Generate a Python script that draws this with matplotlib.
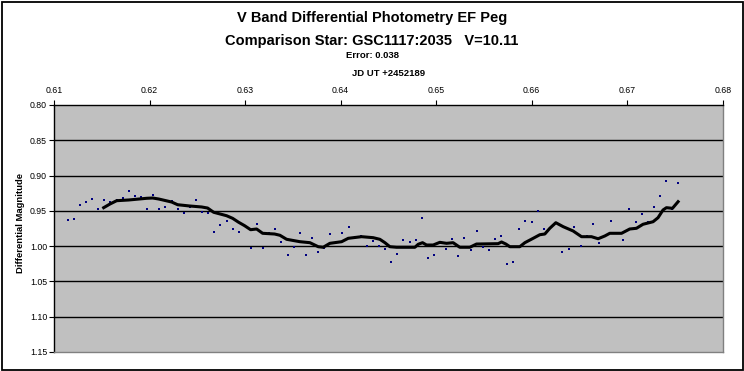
import matplotlib
matplotlib.use("Agg")
import matplotlib.pyplot as plt
from matplotlib.patches import Rectangle

plt.rcParams['font.family'] = ['Liberation Sans', 'DejaVu Sans']

# ---- data ----
jd = [0.61143, 0.61206, 0.61269, 0.61332, 0.61394, 0.61457, 0.61520, 0.61583,
      0.61656, 0.61719, 0.61782, 0.61844, 0.61907, 0.61970, 0.62033, 0.62096,
      0.62158, 0.62232, 0.62294, 0.62357, 0.62420, 0.62483, 0.62546, 0.62608,
      0.62671, 0.62734, 0.62807, 0.62870, 0.62933, 0.62995, 0.63058, 0.63121,
      0.63184, 0.63247, 0.63309, 0.63372, 0.63445, 0.63508, 0.63571, 0.63634,
      0.63697, 0.63759, 0.63822, 0.63885, 0.63948, 0.64011, 0.64084, 0.64147,
      0.64209, 0.64272, 0.64335, 0.64398, 0.64460, 0.64523, 0.64586, 0.64649,
      0.64722, 0.64785, 0.64848, 0.64910, 0.64973, 0.65036, 0.65099, 0.65162,
      0.65224, 0.65287, 0.65360, 0.65423, 0.65486, 0.65549, 0.65612, 0.65678,
      0.65740, 0.65803, 0.65866, 0.65929, 0.66002, 0.66065, 0.66127, 0.66190,
      0.66253, 0.66316, 0.66389, 0.66441, 0.66515, 0.66578, 0.66640, 0.66703,
      0.66766, 0.66829, 0.66891, 0.66954, 0.67017, 0.67090, 0.67153, 0.67216,
      0.67279, 0.67341, 0.67404, 0.67467, 0.67530]
mag = [0.9630, 0.9615, 0.9413, 0.9375, 0.9332, 0.9474, 0.9346, 0.9375,
       0.9346, 0.9318, 0.9219, 0.9285, 0.9304, 0.9474, 0.9275, 0.9474,
       0.9441, 0.9365, 0.9474, 0.9526, 0.9441, 0.9342, 0.9516, 0.9526,
       0.9795, 0.9700, 0.9644, 0.9757, 0.9795, 0.9710, 1.0022, 0.9682,
       1.0022, 0.9814, 0.9757, 0.9941, 1.0126, 1.0012, 0.9814, 1.0126,
       0.9885, 1.0083, 1.0026, 0.9828, 0.9937, 0.9814, 0.9729, 0.9866,
       0.9856, 0.9998, 0.9927, 0.9998, 1.0041, 1.0225, 1.0111, 0.9913,
       0.9941, 0.9913, 0.9601, 1.0168, 1.0126, 0.9955, 1.0041, 0.9899,
       1.0140, 0.9885, 1.0055, 0.9785, 1.0012, 1.0055, 0.9899, 0.9856,
       1.0253, 1.0225, 0.9757, 0.9644, 0.9658, 0.9502, 0.9757, 0.9747,
       0.9668, 1.0083, 1.0041, 0.9729, 0.9998, 0.9856, 0.9686, 0.9955,
       0.9856, 0.9644, 0.9814, 0.9913, 0.9474, 0.9658, 0.9545, 0.9658,
       0.9445, 0.9290, 0.9077, 0.9474, 0.9105]

trend_jd = [0.61520, 0.61586, 0.61656, 0.61782, 0.61970, 0.62033, 0.62096, 0.62232,
            0.62294, 0.62420, 0.62546, 0.62608, 0.62671, 0.62807, 0.62870, 0.62933,
            0.62995, 0.63058, 0.63121, 0.63184, 0.63309, 0.63365, 0.63435, 0.63574,
            0.63679, 0.63766, 0.63818, 0.63888, 0.64011, 0.64080, 0.64220, 0.64341,
            0.64411, 0.64464, 0.64516, 0.64586, 0.64778, 0.64812, 0.64858, 0.64900,
            0.64969, 0.65039, 0.65109, 0.65178, 0.65248, 0.65353, 0.65423, 0.65649,
            0.65685, 0.65730, 0.65772, 0.65876, 0.65929, 0.66016, 0.66086, 0.66138,
            0.66190, 0.66253, 0.66330, 0.66434, 0.66522, 0.66626, 0.66696, 0.66766,
            0.66818, 0.66941, 0.67027, 0.67097, 0.67166, 0.67271, 0.67323, 0.67375,
            0.67411, 0.67474, 0.67533]
trend_mag = [0.9455, 0.9403, 0.9356, 0.9346, 0.9322, 0.9318, 0.9332, 0.9375,
             0.9413, 0.9431, 0.9445, 0.9460, 0.9520, 0.9569, 0.9606, 0.9662,
             0.9710, 0.9767, 0.9757, 0.9818, 0.9828, 0.9846, 0.9903, 0.9937,
             0.9951, 1.0008, 1.0016, 0.9960, 0.9937, 0.9889, 0.9866, 0.9880,
             0.9903, 0.9951, 1.0008, 1.0016, 1.0016, 0.9974, 0.9951, 0.9984,
             0.9984, 0.9946, 0.9960, 0.9951, 1.0016, 1.0016, 0.9970, 0.9965,
             0.9941, 0.9970, 1.0008, 1.0008, 0.9951, 0.9889, 0.9838, 0.9828,
             0.9747, 0.9668, 0.9724, 0.9785, 0.9866, 0.9866, 0.9895, 0.9856,
             0.9818, 0.9818, 0.9757, 0.9747, 0.9690, 0.9654, 0.9597, 0.9488,
             0.9455, 0.9464, 0.9370]

x_ticks = [0.61, 0.62, 0.63, 0.64, 0.65, 0.66, 0.67, 0.68]
y_ticks = [0.80, 0.85, 0.90, 0.95, 1.00, 1.05, 1.10, 1.15]
x_labels = ["0.61", "0.62", "0.63", "0.64", "0.65", "0.66", "0.67", "0.68"]
y_labels = ["0.80", "0.85", "0.90", "0.95", "1.00", "1.05", "1.10", "1.15"]

title1 = "V Band Differential Photometry EF Peg"
title2 = "Comparison Star: GSC1117:2035   V=10.11"
title3 = "Error: 0.038"
xlabel = "JD UT +2452189"
ylabel = "Differential Magnitude"

# ---- figure ----
W, H = 744, 371
fig = plt.figure(figsize=(W / 100, H / 100), dpi=100)
fig.patch.set_facecolor('white')

left, right, top, bottom = 54, 722.7, 105, 352
ax = fig.add_axes([left / W, 1 - bottom / H, (right - left) / W, (bottom - top) / H])
ax.set_facecolor('#C0C0C0')

ax.plot(jd, mag, linestyle='none', marker='s', markersize=1.9,
        color='#000080', markeredgewidth=0, zorder=3)
ax.plot(trend_jd, trend_mag, color='black', linewidth=2.2, zorder=4,
        solid_joinstyle='round')

ax.set_xlim(x_ticks[0], x_ticks[-1])
ax.set_ylim(y_ticks[-1], y_ticks[0])
ax.set_xticks(x_ticks)
ax.set_xticklabels(x_labels)
ax.set_yticks(y_ticks)
ax.set_yticklabels(y_labels)
ax.xaxis.tick_top()
ax.tick_params(axis='both', direction='out', length=3.5, width=0.8,
               labelsize=6.3, color='black', pad=1.5)
ax.tick_params(axis='x', pad=4)

ax.yaxis.grid(True, color='black', linewidth=1.0)
gl = ax.get_ygridlines()
gl[0].set_visible(False)
gl[-1].set_visible(False)
ax.set_axisbelow(True)

for side in ('top', 'left'):
    ax.spines[side].set_color('black')
    ax.spines[side].set_linewidth(1.0)
for side in ('right', 'bottom'):
    ax.spines[side].set_color('#808080')
    ax.spines[side].set_linewidth(1.0)

# titles
fig.text(372 / W, 1 - 18 / H, title1, ha='center', va='center',
         fontsize=10.5, fontweight='bold')
fig.text(372 / W, 1 - 41 / H, title2, ha='center', va='center',
         fontsize=10.5, fontweight='bold')
fig.text(372 / W, 1 - 56 / H, title3, ha='center', va='center',
         fontsize=6.8, fontweight='bold')
fig.text(((left + right) / 2) / W, 1 - 74 / H, xlabel, ha='center', va='center',
         fontsize=6.8, fontweight='bold')
fig.text(21 / W, 1 - 223 / H, ylabel, ha='center', va='center', rotation=90,
         fontsize=6.8, fontweight='bold')

# outer chart border
fig.add_artist(Rectangle((1.5 / W, 1.5 / H), (W - 3) / W, (H - 3) / H,
                         transform=fig.transFigure, fill=False,
                         edgecolor='black', linewidth=1.3))

fig.savefig('out.png', dpi=100)
